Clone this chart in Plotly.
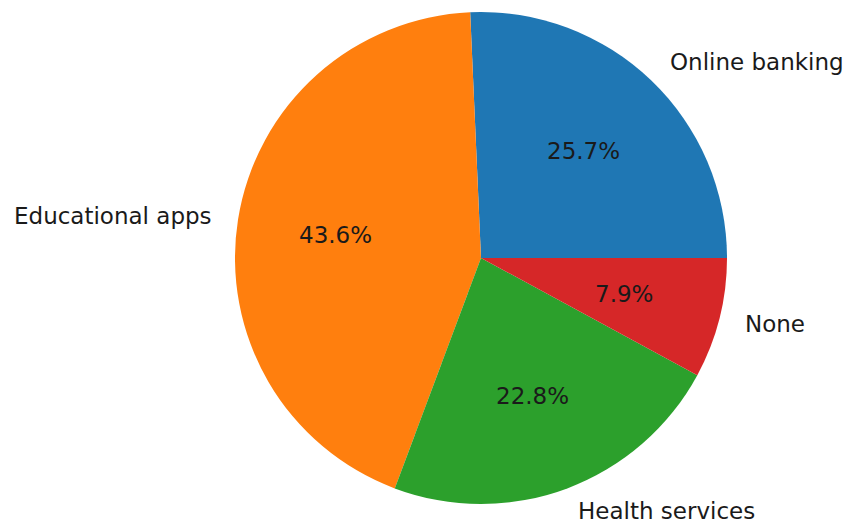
import math
import plotly.graph_objects as go

# Share of respondents by digital service used
labels = ["Online banking", "Educational apps", "Health services", "None"]
shares = [25.7, 43.6, 22.8, 7.9]
colors = ["#1f77b4", "#ff7f0e", "#2ca02c", "#d62728"]

W, H = 848, 525
CX, CY, R = 481, 258, 246  # pie centre and radius in pixels
FONT = "DejaVu Sans"
FSIZE = 23
TEXT_COLOR = "#1a1a1a"

total = sum(shares)
# plotly measures rotation clockwise from 12 o'clock; with a counterclockwise
# direction the first slice ends at that angle, so offset it by the first slice
# to have it start at 3 o'clock.
first_deg = 360.0 * shares[0] / total
rotation = 90 - first_deg

fig = go.Figure(
    go.Pie(
        labels=labels,
        values=shares,
        sort=False,
        direction="counterclockwise",
        rotation=rotation,
        marker=dict(colors=colors, line=dict(width=0)),
        textinfo="none",
        hoverinfo="label+percent",
        showlegend=False,
        domain=dict(
            x=[(CX - R) / W, (CX + R) / W],
            y=[(H - CY - R) / H, (H - CY + R) / H],
        ),
    )
)

# Category labels outside the slices, percentages inside
start = 0.0
annotations = []
for lab, val in zip(labels, shares):
    mid = math.radians(start + 360.0 * val / total / 2)
    start += 360.0 * val / total
    c, s = math.cos(mid), math.sin(mid)
    # percentage at 0.6 R
    annotations.append(dict(
        x=(CX + 0.6 * R * c) / W, y=(H - CY + 0.6 * R * s) / H,
        xref="paper", yref="paper", text=f"{val:.1f}%", showarrow=False,
        xanchor="center", yanchor="middle",
        font=dict(family=FONT, size=FSIZE, color=TEXT_COLOR),
    ))
    # label at 1.1 R
    annotations.append(dict(
        x=(CX + 1.1 * R * c) / W, y=(H - CY + 1.1 * R * s) / H,
        xref="paper", yref="paper", text=lab, showarrow=False,
        xanchor="left" if c > 0 else "right", yanchor="middle",
        font=dict(family=FONT, size=FSIZE, color=TEXT_COLOR),
    ))

fig.update_layout(
    width=W, height=H,
    margin=dict(l=0, r=0, t=0, b=0),
    paper_bgcolor="white", plot_bgcolor="white",
    annotations=annotations,
)

fig.write_html("out.html")
